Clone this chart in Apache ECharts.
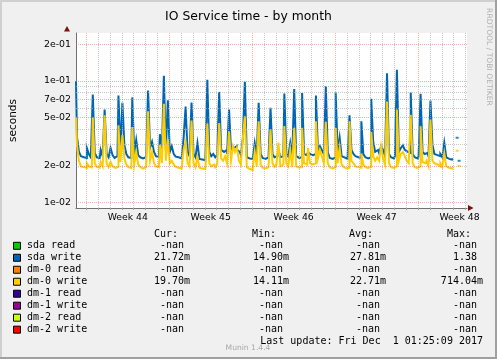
<!DOCTYPE html>
<html><head><meta charset="utf-8">
<script src="https://cdn.jsdelivr.net/npm/echarts@6/dist/echarts.min.js"></script>
<style>html,body{margin:0;padding:0;background:#f0f0f0}#c{width:497px;height:359px}</style>
</head><body><div id="c"></div>
<script>
// ---- data ----
const chartTitle = 'IO Service time - by month';
const firstDay = -0.87;          // days relative to Mon 30 Oct 2017 00:00
const stepDays = 1 / 6;          // 4-hour samples
const xMin = -0.87, xMax = 32.13;
const weekTicks = [3.5, 10.5, 17.5, 24.5, 31.5];
const weekLabels = ['Week 44', 'Week 45', 'Week 46', 'Week 47', 'Week 48'];
const dayLines = [0,1,2,3,4,5,6,7,8,9,10,11,12,13,14,15,16,17,18,19,20,21,22,23,24,25,26,27,28,29,30,31,32];
const yMin = 0.009, yMax = 0.247;
const yMajor = [0.01, 0.02, 0.05, 0.07, 0.1, 0.2];
const yMajorLabels = ['1e-02', '2e-02', '5e-02', '7e-02', '1e-01', '2e-01'];
const yMinor = [0.03, 0.04, 0.06, 0.08, 0.09];

const sdaWrite = [
  0.099, 0.0345, 0.026, 0.024, 0.0235, 0.0232, 0.028, 0.025, 0.0235, 0.077, 0.0255, 0.0235,
  0.0232, 0.027, 0.024, 0.058, 0.025, 0.0235, 0.028, 0.0245, 0.0232, 0.024, 0.0755, 0.0265,
  0.066, 0.0297, 0.025, 0.0235, 0.0232, 0.073, 0.025, 0.0325, 0.0245, 0.0235, 0.023, 0.0236,
  0.0232, 0.083, 0.028, 0.0315, 0.026, 0.024, 0.0235, 0.0364, 0.026, 0.11, 0.027, 0.069,
  0.026, 0.029, 0.025, 0.0238, 0.0235, 0.023, 0.0225, 0.034, 0.0614, 0.026, 0.024, 0.0663,
  0.025, 0.0235, 0.0307, 0.0228, 0.0225, 0.0222, 0.0228, 0.102, 0.026, 0.024, 0.025, 0.0235,
  0.0245, 0.081, 0.027, 0.026, 0.027, 0.025, 0.058, 0.027, 0.028, 0.029, 0.027, 0.026,
  0.0245, 0.0336, 0.098, 0.0235, 0.023, 0.0228, 0.0235, 0.0307, 0.024, 0.066, 0.025, 0.0232,
  0.0228, 0.0235, 0.023, 0.060, 0.025, 0.0235, 0.024, 0.027, 0.0235, 0.024, 0.0784, 0.025,
  0.024, 0.0307, 0.0235, 0.0856, 0.024, 0.0232, 0.0235, 0.0794, 0.025, 0.0245, 0.026, 0.025,
  0.0245, 0.025, 0.0755, 0.027, 0.029, 0.027, 0.025, 0.090, 0.026, 0.0232, 0.0228, 0.0235,
  0.080, 0.026, 0.034, 0.024, 0.0235, 0.0228, 0.0232, 0.052, 0.027, 0.025, 0.024, 0.0235,
  0.0232, 0.0465, 0.025, 0.0235, 0.023, 0.0235, 0.071, 0.0315, 0.026, 0.027, 0.0255, 0.029,
  0.027, 0.024, 0.115, 0.025, 0.0235, 0.023, 0.024, 0.123, 0.026, 0.028, 0.0295, 0.027,
  0.026, 0.0255, 0.080, 0.025, 0.0235, 0.023, 0.024, 0.078, 0.026, 0.025, 0.0255, 0.024,
  0.0688, 0.0297, 0.025, 0.0245, 0.024, 0.025, 0.0235, 0.031, 0.0235, 0.0228, 0.0225, 0.0228
];
const dm0Write = [
  0.050, 0.0295, 0.022, 0.0198, 0.0195, 0.0192, 0.021, 0.0198, 0.0194, 0.050, 0.021, 0.0196,
  0.0193, 0.0215, 0.0198, 0.052, 0.021, 0.0195, 0.0215, 0.0198, 0.0192, 0.0196, 0.043, 0.0215,
  0.0357, 0.023, 0.0205, 0.0195, 0.0192, 0.0417, 0.0205, 0.026, 0.0205, 0.0196, 0.019, 0.0195,
  0.0192, 0.056, 0.022, 0.026, 0.021, 0.0198, 0.0195, 0.0297, 0.021, 0.0646, 0.022, 0.033,
  0.021, 0.022, 0.0205, 0.0196, 0.0193, 0.019, 0.0188, 0.027, 0.0315, 0.021, 0.0198, 0.047,
  0.021, 0.0195, 0.0238, 0.0193, 0.019, 0.0188, 0.0192, 0.0445, 0.021, 0.0198, 0.0205, 0.0195,
  0.0205, 0.045, 0.023, 0.022, 0.024, 0.021, 0.0385, 0.022, 0.029, 0.026, 0.0283, 0.022,
  0.0205, 0.0336, 0.051, 0.0195, 0.0188, 0.0185, 0.0193, 0.026, 0.0198, 0.0465, 0.0205, 0.0193,
  0.019, 0.0195, 0.0192, 0.040, 0.021, 0.0196, 0.0205, 0.031, 0.0198, 0.0205, 0.0425, 0.021,
  0.0198, 0.027, 0.0195, 0.041, 0.0198, 0.0193, 0.0196, 0.041, 0.021, 0.0205, 0.028, 0.021,
  0.0205, 0.021, 0.0465, 0.023, 0.027, 0.024, 0.021, 0.046, 0.021, 0.0195, 0.019, 0.0195,
  0.041, 0.021, 0.028, 0.0205, 0.0196, 0.019, 0.0193, 0.0465, 0.022, 0.021, 0.0198, 0.0195,
  0.0193, 0.0253, 0.0205, 0.0195, 0.0192, 0.0196, 0.038, 0.024, 0.022, 0.0235, 0.022, 0.029,
  0.023, 0.0205, 0.0675, 0.021, 0.0195, 0.0192, 0.0198, 0.058, 0.022, 0.025, 0.026, 0.024,
  0.022, 0.021, 0.0526, 0.021, 0.0195, 0.0192, 0.0198, 0.0423, 0.0215, 0.021, 0.022, 0.0198,
  0.048, 0.022, 0.021, 0.0205, 0.0198, 0.021, 0.0196, 0.0253, 0.0198, 0.0193, 0.019, 0.0195
];
// isolated samples after the gap at the end
const tailIndex = [193, 194];
const tailSda = [0.034, 0.022];
const tailDm0 = [0.0266, 0.020];

const legendNames = ['sda read', 'sda write', 'dm-0 read', 'dm-0 write', 'dm-1 read', 'dm-1 write', 'dm-2 read', 'dm-2 write'];
const legendColors = ['#00cc00', '#0066b3', '#ff8000', '#ffcc00', '#330099', '#990099', '#ccff00', '#ff0000'];
const colHeaders = ['Cur:', 'Min:', 'Avg:', 'Max:'];
const curVals = ['-nan', '21.72m', '-nan', '19.70m', '-nan', '-nan', '-nan', '-nan'];
const minVals = ['-nan', '14.90m', '-nan', '14.11m', '-nan', '-nan', '-nan', '-nan'];
const avgVals = ['-nan', '27.81m', '-nan', '22.71m', '-nan', '-nan', '-nan', '-nan'];
const maxVals = ['-nan', '1.38', '-nan', '714.04m', '-nan', '-nan', '-nan', '-nan'];
const lastUpdate = 'Last update: Fri Dec  1 01:25:09 2017';
const watermark = 'Munin 1.4.4';
const sideText = 'RRDTOOL / TOBI OETIKER';

// ---- build ----
const toXY = (arr) => arr.map((v, i) => [firstDay + i * stepDays, v]);
const tailXY = (arr) => arr.map((v, k) => [firstDay + tailIndex[k] * stepDays, v]);

const RED = 'rgba(230,110,110,0.55)';
const GRAY = 'rgba(175,175,175,0.7)';
const gridLines = [];
yMinor.forEach(v => gridLines.push([{ coord: [xMin, v], lineStyle: { color: GRAY }, label: { show: false } }, { coord: [xMax, v] }]));
dayLines.forEach(d => {
  if (d % 7 !== 0) gridLines.push([{ coord: [d, yMin], lineStyle: { color: GRAY }, label: { show: false } }, { coord: [d, yMax] }]);
});
dayLines.forEach(d => {
  if (d % 7 === 0) gridLines.push([{ coord: [d, yMin], lineStyle: { color: RED }, label: { show: false } }, { coord: [d, yMax] }]);
});
yMajor.forEach((v, k) => gridLines.push([{
  coord: [xMin, v], lineStyle: { color: RED },
  label: { show: true, position: 'start', distance: 5, formatter: yMajorLabels[k], color: '#000', fontSize: 9.4, fontFamily: 'DejaVu Sans' }
}, { coord: [xMax, v] }]));

const FONT_MONO = '10px "DejaVu Sans Mono"';
const graphics = [];
// frame
graphics.push({ type: 'rect', shape: { x: 0, y: 0, width: 497, height: 2 }, style: { fill: '#d0d0d0' }, silent: true });
graphics.push({ type: 'rect', shape: { x: 0, y: 0, width: 2, height: 359 }, style: { fill: '#d0d0d0' }, silent: true });
graphics.push({ type: 'rect', shape: { x: 0, y: 357, width: 497, height: 2 }, style: { fill: '#a0a0a0' }, silent: true });
graphics.push({ type: 'rect', shape: { x: 495, y: 0, width: 2, height: 359 }, style: { fill: '#a0a0a0' }, silent: true });
// axis arrows
graphics.push({ type: 'polygon', shape: { points: [[64, 31.5], [70, 31.5], [67, 26]] }, style: { fill: '#7a1010' }, silent: true });
graphics.push({ type: 'polygon', shape: { points: [[468, 205], [468, 211], [473.5, 208]] }, style: { fill: '#7a1010' }, silent: true });
// side text
graphics.push({ type: 'text', x: 488.5, y: 57, rotation: -Math.PI / 2, silent: true,
  style: { text: sideText, font: '7.6px "DejaVu Sans"', fill: '#b0b0b0', align: 'center', verticalAlign: 'middle', textAlign: 'center', textVerticalAlign: 'middle' } });
// legend
const colRight = [190, 289, 386, 483];
const colLeft = [154, 252, 349, 447];
const headerY = 234;
colHeaders.forEach((h, c) => graphics.push({ type: 'text', silent: true,
  style: { text: h, x: colLeft[c], y: headerY, font: FONT_MONO, fill: '#000', align: 'left', verticalAlign: 'middle', textAlign: 'left', textVerticalAlign: 'middle' } }));
const cols = [curVals, minVals, avgVals, maxVals];
legendNames.forEach((name, r) => {
  const y = 245.8 + r * 11.98;
  graphics.push({ type: 'rect', silent: true, shape: { x: 13.5, y: y - 3.5, width: 7, height: 7 }, style: { fill: legendColors[r], stroke: '#000', lineWidth: 1 } });
  graphics.push({ type: 'text', silent: true, style: { text: name, x: 27, y: y, font: FONT_MONO, fill: '#000', align: 'left', verticalAlign: 'middle', textAlign: 'left', textVerticalAlign: 'middle' } });
  cols.forEach((arr, c) => {
    const s = arr[r];
    const hasSuffix = /[a-zA-Z]$/.test(s) && s !== '-nan';
    graphics.push({ type: 'text', silent: true, style: { text: s, x: colRight[c] - (hasSuffix ? 0 : 6), y: y, font: FONT_MONO, fill: '#000', align: 'right', verticalAlign: 'middle', textAlign: 'right', textVerticalAlign: 'middle' } });
  });
});
graphics.push({ type: 'text', silent: true, style: { text: lastUpdate, x: 483, y: 341.7, font: FONT_MONO, fill: '#000', align: 'right', verticalAlign: 'middle', textAlign: 'right', textVerticalAlign: 'middle' } });
graphics.push({ type: 'text', silent: true, style: { text: watermark, x: 248, y: 348.5, font: '7.6px "DejaVu Sans"', fill: '#a8a8a8', align: 'center', verticalAlign: 'middle', textAlign: 'center', textVerticalAlign: 'middle' } });

const chart = echarts.init(document.getElementById('c'), null, { renderer: 'canvas' });
chart.setOption({
  animation: false,
  backgroundColor: '#f0f0f0',
  title: { text: chartTitle, left: 'center', top: 6, textStyle: { fontFamily: 'DejaVu Sans', fontSize: 12.4, fontWeight: 'normal', color: '#000' } },
  grid: { left: 67, right: 30, top: 33, bottom: 151, show: true, backgroundColor: '#ffffff', borderWidth: 0, containLabel: false },
  xAxis: {
    type: 'value', min: xMin, max: xMax,
    axisLine: { show: true, onZero: false, lineStyle: { color: '#707070', width: 1 } },
    axisTick: { show: true, customValues: dayLines, length: 2, lineStyle: { color: '#a0a0a0' } },
    axisLabel: { show: true, customValues: weekTicks, margin: 5, fontFamily: 'DejaVu Sans', fontSize: 9.3, color: '#000',
      formatter: (v) => { const k = weekTicks.findIndex(t => Math.abs(t - v) < 1e-6); return k >= 0 ? weekLabels[k] : ''; } },
    splitLine: { show: false }
  },
  yAxis: {
    type: 'log', logBase: 10, min: yMin, max: yMax,
    name: 'seconds', nameLocation: 'middle', nameGap: 57, nameRotate: 90,
    nameTextStyle: { fontFamily: 'DejaVu Sans', fontSize: 10.5, color: '#000' },
    axisLine: { show: true, onZero: false, lineStyle: { color: '#707070', width: 1 } },
    axisTick: { show: false }, axisLabel: { show: false },
    splitLine: { show: false }, minorSplitLine: { show: false }
  },
  graphic: graphics,
  series: [
    { type: 'line', name: 'grid', data: [], z: 1, silent: true,
      markLine: { silent: true, symbol: ['none', 'none'], animation: false, emphasis: { disabled: true },
        lineStyle: { type: [1, 1], width: 1 }, data: gridLines } },
    { type: 'line', name: 'sda write', data: toXY(sdaWrite), z: 2, showSymbol: false, connectNulls: false, step: 'middle',
      lineStyle: { color: '#0066b3', width: 2, join: 'miter' }, itemStyle: { color: '#0066b3' }, silent: true },
    { type: 'line', name: 'dm-0 write', data: toXY(dm0Write), z: 3, showSymbol: false, connectNulls: false, step: 'middle',
      lineStyle: { color: '#ffcc00', width: 2, join: 'miter' }, itemStyle: { color: '#ffcc00' }, silent: true },
    { type: 'scatter', name: 'sda write tail', data: tailXY(tailSda), z: 2, symbol: 'rect', symbolSize: [3, 2], itemStyle: { color: '#0066b3' }, silent: true },
    { type: 'scatter', name: 'dm-0 write tail', data: tailXY(tailDm0), z: 3, symbol: 'rect', symbolSize: [3, 2], itemStyle: { color: '#ffcc00' }, silent: true }
  ]
});
</script>
</body></html>
